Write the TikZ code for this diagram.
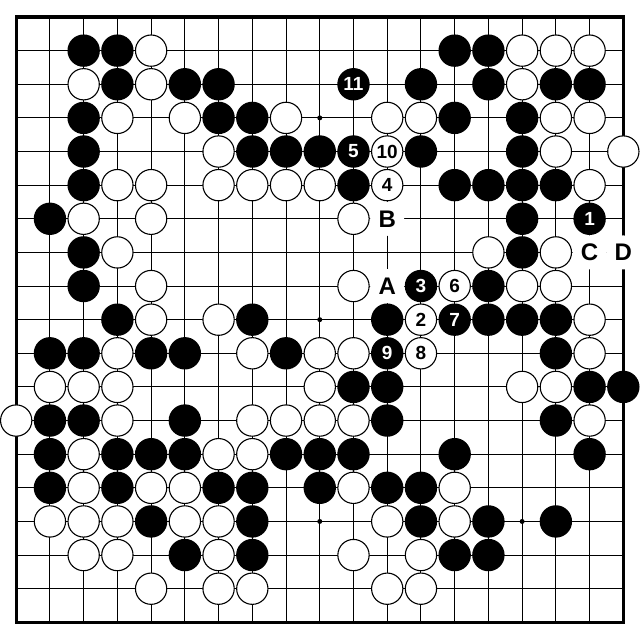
\documentclass[tikz,border=0pt]{standalone}
\usepackage{fontspec}
\setmainfont{Liberation Sans}
\newcommand\stonenumfont{\bfseries\fontsize{19}{19}\selectfont}
\newcommand\boardlblfont{\bfseries\fontsize{24}{24}\selectfont}
\begin{document}
\begin{tikzpicture}[x=33.73pt,y=-33.63pt,
  bstone/.style={circle,fill=black,inner sep=0pt,minimum size=32.4pt,text=white,font=\stonenumfont},
  wstone/.style={circle,draw=black,line width=1.1pt,fill=white,inner sep=0pt,minimum size=31.3pt,text=black,font=\stonenumfont},
  lbl/.style={circle,fill=white,inner sep=0pt,minimum size=34pt,font=\boardlblfont},
  hoshi/.style={circle,fill=black,inner sep=0pt,minimum size=5pt},
  gridline/.style={line width=1pt},
  boardedge/.style={line width=3.3pt,line join=miter}]
\useasboundingbox (-0.4803,-0.5055) rectangle (18.494,18.585);
% grid
\foreach \i in {1,...,17} {
  \draw[gridline] (\i,0) -- (\i,18);
  \draw[gridline] (0,\i) -- (18,\i);
}
\draw[boardedge] (0,0) rectangle (18,18);
% star points
\foreach \i in {3,9,15} \foreach \j in {3,9,15} \node[hoshi] (h\i-\j) at (\i,\j) {};
% black stones
\foreach \c/\r in {2/1,3/1,13/1,14/1,
  3/2,5/2,6/2,12/2,14/2,16/2,17/2,
  2/3,6/3,7/3,13/3,15/3,
  2/4,7/4,8/4,9/4,12/4,15/4,
  2/5,10/5,13/5,14/5,15/5,16/5,
  1/6,15/6,
  2/7,15/7,
  2/8,14/8,
  3/9,7/9,11/9,14/9,15/9,16/9,
  1/10,2/10,4/10,5/10,8/10,16/10,
  10/11,11/11,17/11,18/11,
  1/12,2/12,5/12,11/12,16/12,
  1/13,3/13,4/13,5/13,8/13,9/13,10/13,13/13,17/13,
  1/14,3/14,6/14,7/14,9/14,11/14,12/14,
  4/15,7/15,12/15,14/15,16/15,
  5/16,7/16,13/16,14/16}
  \node[bstone] (b\c-\r) at (\c,\r) {};
% white stones
\foreach \c/\r in {4/1,15/1,16/1,17/1,
  2/2,4/2,15/2,
  3/3,5/3,8/3,11/3,12/3,16/3,17/3,
  6/4,16/4,18/4,
  3/5,4/5,6/5,7/5,8/5,9/5,17/5,
  2/6,4/6,10/6,
  3/7,14/7,16/7,
  4/8,10/8,15/8,16/8,
  4/9,6/9,17/9,
  3/10,7/10,9/10,10/10,17/10,
  1/11,2/11,3/11,9/11,15/11,16/11,
  0/12,3/12,7/12,8/12,9/12,10/12,17/12,
  2/13,6/13,7/13,
  2/14,4/14,5/14,10/14,13/14,
  1/15,2/15,3/15,5/15,6/15,11/15,13/15,
  2/16,3/16,6/16,10/16,12/16,
  4/17,6/17,7/17,11/17,12/17}
  \node[wstone] (w\c-\r) at (\c,\r) {};
% numbered moves
\node[bstone] (m1) at (17,6) {1};
\node[wstone] (m2) at (12,9) {2};
\node[bstone] (m3) at (12,8) {3};
\node[wstone] (m4) at (11,5) {4};
\node[bstone] (m5) at (10,4) {5};
\node[wstone] (m6) at (13,8) {6};
\node[bstone] (m7) at (13,9) {7};
\node[wstone] (m8) at (12,10) {8};
\node[bstone] (m9) at (11,10) {9};
\node[wstone] (m10) at (11,4) {10};
\node[bstone] (m11) at (10,2) {11};
% letter labels
\node[lbl] (la) at (11,8) {A};
\node[lbl] (lb) at (11,6) {B};
\node[lbl] (lc) at (17,7) {C};
\node[lbl] (ld) at (18,7) {D};
\end{tikzpicture}
\end{document}
